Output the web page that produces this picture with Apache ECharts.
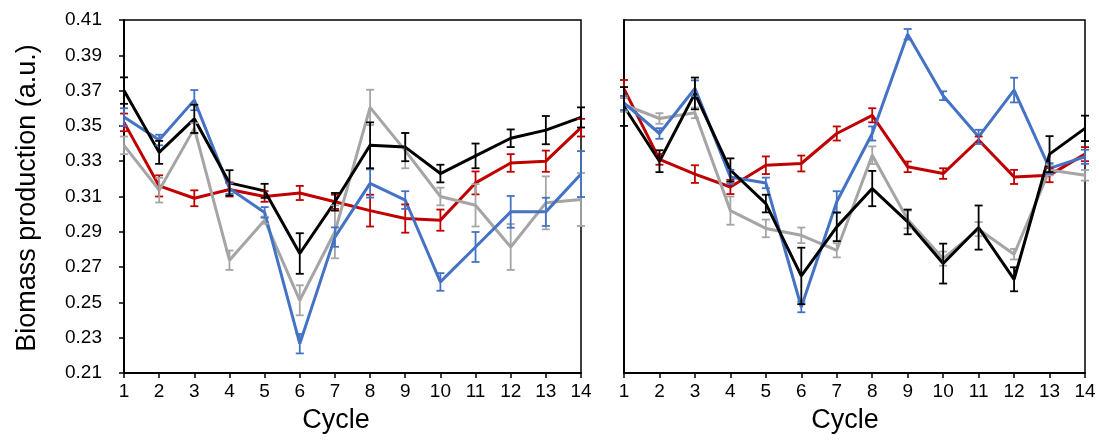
<!DOCTYPE html>
<html>
<head>
<meta charset="utf-8">
<script src="https://cdn.jsdelivr.net/npm/echarts@6/dist/echarts.min.js"></script>
<style>html,body{margin:0;padding:0;background:#fff}#c{width:1099px;height:442px}</style>
</head>
<body>
<div id="c"></div>
<script>
const cycles = ['1','2','3','4','5','6','7','8','9','10','11','12','13','14'];
const yTicks = [0.21,0.23,0.25,0.27,0.29,0.31,0.33,0.35,0.37,0.39,0.41];

// Left panel
const L_red      = [0.352,0.316,0.309,0.314,0.310,0.312,0.307,0.302,0.2975,0.2966,0.3177,0.329,0.330,0.349];
const L_redErr   = [0.005,0.006,0.0045,0.004,0.003,0.004,0.004,0.009,0.008,0.006,0.0065,0.005,0.006,0.005];
const L_blue     = [0.355,0.342,0.3646,0.3145,0.301,0.2266,0.287,0.3174,0.308,0.2616,0.2814,0.3013,0.3013,0.3227];
const L_blueErr  = [0.005,0.003,0.0057,0.003,0.003,0.0055,0.0055,0.008,0.005,0.005,0.0085,0.009,0.008,0.013];
const L_gray     = [0.339,0.3136,0.3486,0.2739,0.2966,0.2512,0.290,0.3605,0.336,0.310,0.305,0.2814,0.3064,0.3083];
const L_grayErr  = [0.005,0.007,0.003,0.0055,0.002,0.0085,0.015,0.010,0.010,0.005,0.012,0.013,0.015,0.015];
const L_black    = [0.370,0.335,0.354,0.3177,0.3132,0.2777,0.307,0.339,0.338,0.323,0.333,0.343,0.3476,0.3548];
const L_blackErr = [0.0075,0.0065,0.008,0.0072,0.004,0.0115,0.005,0.013,0.008,0.005,0.007,0.005,0.008,0.0057];

// Right panel
const R_red      = [0.371,0.331,0.3227,0.3154,0.3277,0.3287,0.3457,0.356,0.3268,0.323,0.342,0.3211,0.3221,0.334];
const R_redErr   = [0.005,0.003,0.005,0.004,0.005,0.0045,0.004,0.004,0.003,0.003,0.002,0.004,0.004,0.004];
const R_blue     = [0.363,0.3457,0.3713,0.3211,0.3177,0.2474,0.307,0.3457,0.4019,0.3671,0.3438,0.3703,0.3259,0.3325];
const R_blueErr  = [0.004,0.003,0.0045,0.004,0.003,0.003,0.006,0.004,0.003,0.0025,0.004,0.007,0.003,0.004];
const R_gray     = [0.362,0.3542,0.3574,0.302,0.2919,0.288,0.2795,0.3334,0.297,0.2748,0.2915,0.2773,0.325,0.322];
const R_grayErr  = [0.004,0.003,0.003,0.008,0.005,0.0044,0.004,0.005,0.005,0.004,0.004,0.003,0.003,0.003];
const R_black    = [0.361,0.330,0.3684,0.325,0.306,0.265,0.2928,0.3145,0.2956,0.272,0.2924,0.2631,0.334,0.3486];
const R_blackErr = [0.011,0.0062,0.009,0.0066,0.005,0.016,0.0081,0.010,0.007,0.0113,0.0125,0.0068,0.0102,0.0072];

const COLORS = { red:'#C00000', blue:'#4472C4', gray:'#A5A5A5', black:'#000000' };
const FONT = "'Liberation Sans', Arial, Helvetica, sans-serif";

function lineSeries(name, data, color, idx) {
  return { name, type:'line', xAxisIndex:idx, yAxisIndex:idx, data, showSymbol:false, symbol:'none',
    lineStyle:{ color, width:3 }, itemStyle:{ color }, z:3, silent:true };
}
function errSeries(name, vals, errs, color, idx) {
  const d = vals.map((v,i)=>[i, v-errs[i], v+errs[i]]);
  return { name:name+' err', type:'custom', xAxisIndex:idx, yAxisIndex:idx, data:d, z:4, silent:true,
    encode:{ x:0, y:[1,2] },
    renderItem:function(params, api){
      const lo = api.coord([api.value(0), api.value(1)]);
      const hi = api.coord([api.value(0), api.value(2)]);
      const w = 4;
      const st = { stroke: color, lineWidth: 1.8, fill:null };
      return { type:'group', children:[
        { type:'line', shape:{x1:lo[0], y1:lo[1], x2:hi[0], y2:hi[1]}, style:st },
        { type:'line', shape:{x1:lo[0]-w, y1:lo[1], x2:lo[0]+w, y2:lo[1]}, style:st },
        { type:'line', shape:{x1:hi[0]-w, y1:hi[1], x2:hi[0]+w, y2:hi[1]}, style:st }
      ]};
    }
  };
}

const panels = [
  { red:L_red, redE:L_redErr, blue:L_blue, blueE:L_blueErr, gray:L_gray, grayE:L_grayErr, black:L_black, blackE:L_blackErr },
  { red:R_red, redE:R_redErr, blue:R_blue, blueE:R_blueErr, gray:R_gray, grayE:R_grayErr, black:R_black, blackE:R_blackErr }
];

const series = [];
panels.forEach((p, idx) => {
  ['red','gray','blue','black'].forEach(k => {
    series.push(lineSeries(k, p[k], COLORS[k], idx));
    series.push(errSeries(k, p[k], p[k+'E'], COLORS[k], idx));
  });
});

const xAxisBase = (idx) => ({
  type:'category', gridIndex:idx, data:cycles, boundaryGap:false,
  axisLine:{ lineStyle:{ color:'#000', width:2 } },
  axisTick:{ show:true, length:5, inside:false, lineStyle:{ color:'#000', width:1.5 } },
  axisLabel:{ color:'#000', fontSize:19, fontFamily:FONT, margin:9, interval:0 },
  splitLine:{ show:false }
});
const yAxisBase = (idx, showLabels) => ({
  type:'value', gridIndex:idx, min:yTicks[0], max:yTicks[yTicks.length-1], interval:0.02,
  axisLine:{ show:true, lineStyle:{ color:'#000', width:2 } },
  axisTick:{ show:showLabels, length:5, lineStyle:{ color:'#000', width:1.5 } },
  axisLabel:{ show:showLabels, color:'#000', fontSize:19, fontFamily:FONT, margin:22,
    formatter:(v)=>v.toFixed(2) },
  splitLine:{ show:false }
});

const chart = echarts.init(document.getElementById('c'), null, { renderer:'canvas' });
chart.setOption({
  animation:false,
  backgroundColor:'#fff',
  grid:[
    { left:124, right:518, top:20, bottom:69, show:true, borderColor:'#000', borderWidth:1.5, backgroundColor:'transparent' },
    { left:624, right:14, top:20, bottom:69, show:true, borderColor:'#000', borderWidth:1.5, backgroundColor:'transparent' }
  ],
  xAxis:[ xAxisBase(0), xAxisBase(1) ],
  yAxis:[ yAxisBase(0, true), yAxisBase(1, false) ],
  series,
  graphic:[
    { type:'text', x:336, y:421, style:{ text:'Cycle', fontSize:27, fontFamily:FONT, fill:'#000', textAlign:'center', textVerticalAlign:'middle' } },
    { type:'text', x:845, y:421, style:{ text:'Cycle', fontSize:27, fontFamily:FONT, fill:'#000', textAlign:'center', textVerticalAlign:'middle' } },
    { type:'text', x:28, y:198, rotation:Math.PI/2, style:{ text:'Biomass production (a.u.)', fontSize:27, fontFamily:FONT, fill:'#000', textAlign:'center', textVerticalAlign:'middle' } }
  ]
});
</script>
</body>
</html>
